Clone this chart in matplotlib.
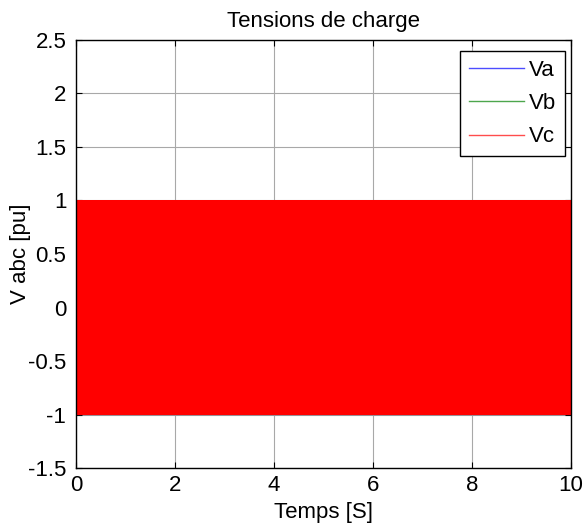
import numpy as np
import matplotlib
matplotlib.use("Agg")
import matplotlib.pyplot as plt
from matplotlib.ticker import FuncFormatter

# signal parameters (three-phase load voltages, pu)
t_start, t_end = 0.0, 10.0
freq_hz = 50.0
amplitude_pu = 1.0
phase_names = ["Va", "Vb", "Vc"]
phase_shift_deg = [0.0, -120.0, 120.0]
phase_colors = ["#0000ff", "#008000", "#ff0000"]

x_ticks = [0, 2, 4, 6, 8, 10]
y_ticks = [-1.5, -1, -0.5, 0, 0.5, 1, 1.5, 2, 2.5]

plt.rcParams["font.family"] = ["Liberation Sans", "DejaVu Sans"]

t = np.arange(t_start, t_end, 1e-4)

fig = plt.figure(figsize=(5.85, 5.32), dpi=100)
ax = fig.add_axes([0.130, 0.120, 0.846, 0.805])
ax.set_axisbelow(True)

for name, shift, col in zip(phase_names, phase_shift_deg, phase_colors):
    v = amplitude_pu * np.sin(2 * np.pi * freq_hz * t + np.deg2rad(shift))
    ax.plot(t, v, color=col, lw=0.8, label=name)

ax.set_xlim(0, 10)
ax.set_ylim(-1.5, 2.5)
ax.set_xticks(x_ticks)
ax.set_yticks(y_ticks)
ax.yaxis.set_major_formatter(FuncFormatter(lambda v, p: "%g" % v))
ax.tick_params(direction="in", top=True, right=True, length=4, labelsize=16)
ax.tick_params(axis="x", pad=5)
ax.tick_params(axis="y", pad=7)
ax.grid(True, color="#a8a8a8", lw=0.8)
for s in ax.spines.values():
    s.set_linewidth(1.0)

ax.set_title("Tensions de charge", fontsize=16, pad=9)
ax.set_xlabel("Temps [S]", fontsize=16, labelpad=4)
ax.set_ylabel("V abc [pu]", fontsize=16, labelpad=-2)

leg = ax.legend(loc="upper right", fontsize=16, handlelength=2.5, handletextpad=0.2,
                borderpad=0.4, labelspacing=0.55, fancybox=False, framealpha=1,
                edgecolor="black", borderaxespad=0, bbox_to_anchor=(0.988, 0.974))
leg.get_frame().set_linewidth(1.0)
for line in leg.get_lines():
    line.set_linewidth(1.0)
    line.set_alpha(0.7)

fig.savefig("out.png", dpi=100)
